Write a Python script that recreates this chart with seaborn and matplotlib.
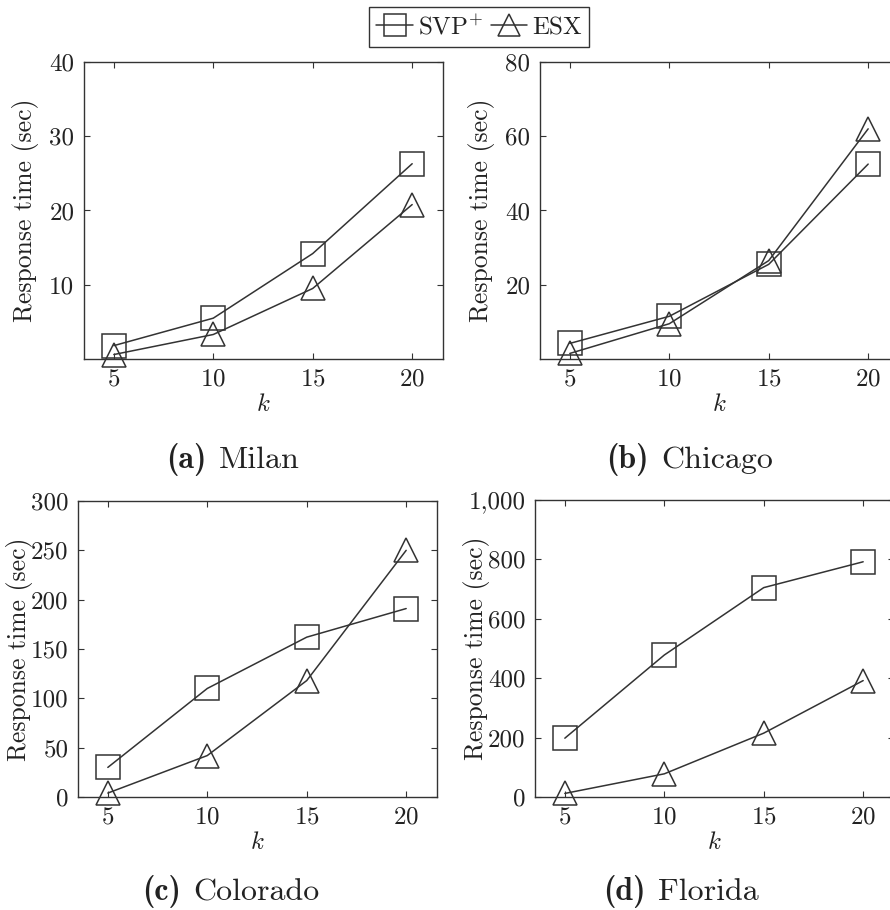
"""Response time vs k for SVP+ and ESX on four datasets."""

import matplotlib
matplotlib.use("Agg")
import matplotlib.pyplot as plt
import matplotlib.ticker as mticker
from matplotlib.offsetbox import AnchoredOffsetbox, HPacker, TextArea
import pandas as pd
import seaborn as sns

k_values = [5, 10, 15, 20]

milan_svp = [1.8, 5.5, 14.2, 26.3]
milan_esx = [0.6, 3.3, 9.5, 20.8]
chicago_svp = [4.2, 11.5, 25.5, 52.5]
chicago_esx = [1.5, 9.5, 26.5, 62.0]
colorado_svp = [30, 110, 162, 191]
colorado_esx = [4, 42, 118, 250]
florida_svp = [198, 478, 705, 792]
florida_esx = [12, 78, 215, 392]

panel_letters = ["(a)", "(b)", "(c)", "(d)"]
panel_names = ["Milan", "Chicago", "Colorado", "Florida"]
y_ticks = [
    [10, 20, 30, 40],
    [20, 40, 60, 80],
    [0, 50, 100, 150, 200, 250, 300],
    [0, 200, 400, 600, 800, 1000],
]
y_limits = [(0, 40), (0, 80), (0, 300), (0, 1000)]

INK = "#333333"
TXT = "#222222"

sns.set_theme(style="ticks")
plt.rcParams.update(
    {
        "font.family": ["cmr10", "DejaVu Serif"],
        "mathtext.fontset": "cm",
        "axes.formatter.use_mathtext": True,
        "axes.edgecolor": INK,
        "axes.linewidth": 1.0,
        "xtick.color": INK,
        "ytick.color": INK,
        "xtick.labelcolor": TXT,
        "ytick.labelcolor": TXT,
        "text.color": TXT,
        "axes.labelcolor": TXT,
    }
)

fig = plt.figure(figsize=(8.9, 9.1), dpi=100)
W, H = 890, 910


def px_axes(left, top, right, bottom):
    return fig.add_axes([left / W, 1 - bottom / H, (right - left) / W, (bottom - top) / H])


axes = [
    px_axes(84, 62, 443, 359),
    px_axes(540, 62, 899, 359),
    px_axes(78, 501, 437, 797),
    px_axes(535, 500, 894, 797),
]

series = [
    (milan_svp, milan_esx),
    (chicago_svp, chicago_esx),
    (colorado_svp, colorado_esx),
    (florida_svp, florida_esx),
]

for i, (ax, (svp, esx)) in enumerate(zip(axes, series)):
    df = pd.DataFrame({"k": k_values * 2, "time": svp + esx,
                       "method": ["SVP+"] * 4 + ["ESX"] * 4})
    for method, marker in [("SVP+", "s"), ("ESX", "^")]:
        sub = df[df["method"] == method]
        sns.lineplot(data=sub, x="k", y="time", ax=ax, color=INK, lw=1.1,
                     marker=marker, ms=17, mfc="none", mec=INK, mew=1.1,
                     clip_on=False)
    ax.set_xlim(3.5, 21.55)
    ax.set_ylim(*y_limits[i])
    ax.set_xticks(k_values)
    ax.set_yticks(y_ticks[i])
    ax.yaxis.set_major_formatter(mticker.FuncFormatter(lambda v, p: f"{int(v):,}"))
    ax.tick_params(direction="in", length=4, width=0.8, labelsize=18, pad=7,
                   top=True, right=True)
    ax.set_xlabel("$k$", fontsize=18, labelpad=2)
    ax.set_ylabel("Response time (sec)", fontsize=18.5)
    ax.yaxis.set_label_coords(-45 / 359, 0.5)
    for s in ax.spines.values():
        s.set_visible(True)

# sub-captions: bold letter + regular dataset name
caption_pos = [(233, 459), (690, 459), (231, 892), (681, 892)]
for (cx, cy), letter, name in zip(caption_pos, panel_letters, panel_names):
    parts = HPacker(
        children=[
            TextArea(letter, textprops=dict(family="cmb10", fontsize=23, color=TXT)),
            TextArea(name, textprops=dict(family="cmr10", fontsize=23, color=TXT)),
        ],
        sep=9, pad=0, align="baseline",
    )
    box = AnchoredOffsetbox(loc="center", child=parts, pad=0, borderpad=0, frameon=False,
                            bbox_to_anchor=(cx / W, 1 - cy / H),
                            bbox_transform=fig.transFigure)
    fig.add_artist(box)

handles = axes[0].get_lines()[:2]
fig.legend(handles, ["SVP$^{+}$", "ESX"], loc="center", bbox_to_anchor=(479 / W, 1 - 27 / H),
           ncol=2, frameon=True, fancybox=False, edgecolor=INK, fontsize=18,
           handlelength=1.45, handletextpad=0.2, columnspacing=0.3, borderpad=0.3,
           borderaxespad=0, markerscale=0.95, framealpha=1)

fig.savefig("out.png", dpi=100)
